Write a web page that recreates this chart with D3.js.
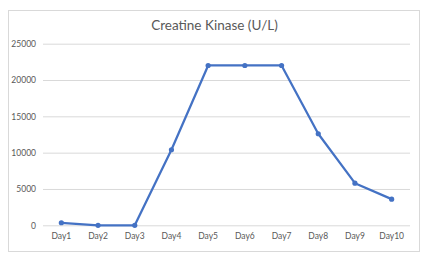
<!DOCTYPE html>
<html>
<head>
<meta charset="utf-8">
<script src="https://cdn.jsdelivr.net/npm/d3@7"></script>
<style>
  html, body { margin: 0; padding: 0; background: #fff; }
  svg { display: block; }
</style>
</head>
<body>
<svg id="chart" width="432" height="258"></svg>
<script>
// Creatine kinase readings per day
const days = ["Day1", "Day2", "Day3", "Day4", "Day5", "Day6", "Day7", "Day8", "Day9", "Day10"];
const ckValues = [350, 0, 0, 10400, 22000, 22000, 22000, 12600, 5800, 3600];
const yTicks = [0, 5000, 10000, 15000, 20000, 25000];
const chartTitle = "Creatine Kinase (U/L)";

const svg = d3.select("#chart");
const font = "Lato, 'Open Sans', sans-serif";

// outer frame
svg.append("rect")
  .attr("x", 8.5).attr("y", 10.5)
  .attr("width", 411).attr("height", 241)
  .attr("fill", "#fff")
  .attr("stroke", "#d9d9d9")
  .attr("stroke-width", 1);

const plot = { left: 43, right: 410, top: 43.7, bottom: 225.3 };

const x = d3.scaleBand().domain(days).range([plot.left, plot.right]);
const y = d3.scaleLinear().domain([0, 25000]).range([plot.bottom, plot.top]);

// horizontal gridlines + value labels
const yAxis = d3.axisLeft(y).tickValues(yTicks).tickSize(-(plot.right - plot.left)).tickPadding(7).tickFormat(d3.format("d"));
const gy = svg.append("g").attr("transform", `translate(${plot.left},0)`).call(yAxis);
gy.select(".domain").remove();
gy.selectAll(".tick line").attr("stroke", "#d9d9d9").attr("stroke-width", 1);
gy.selectAll(".tick text").attr("fill", "#595959").style("font-family", font).style("font-size", "8.5px");

// category labels
const xAxis = d3.axisBottom(x).tickSize(0).tickPadding(8);
const gx = svg.append("g").attr("transform", `translate(0,${plot.bottom})`).call(xAxis);
gx.select(".domain").remove();
gx.selectAll(".tick text").attr("fill", "#595959").style("font-family", font).style("font-size", "8.5px");

// series line
const cx = d => x(d) + x.bandwidth() / 2;
const line = d3.line().x((d, i) => cx(days[i])).y(d => y(d));
svg.append("path")
  .datum(ckValues)
  .attr("d", line)
  .attr("fill", "none")
  .attr("stroke", "#4472c4")
  .attr("stroke-width", 2.25)
  .attr("stroke-linejoin", "round");

svg.append("g").selectAll("circle")
  .data(ckValues)
  .join("circle")
  .attr("cx", (d, i) => cx(days[i]))
  .attr("cy", d => y(d))
  .attr("r", 2.6)
  .attr("fill", "#4472c4");

// title
svg.append("text")
  .attr("x", 214.5).attr("y", 29.5)
  .attr("text-anchor", "middle")
  .attr("fill", "#595959")
  .style("font-family", font)
  .style("font-size", "13.5px")
  .text(chartTitle);
</script>
</body>
</html>
